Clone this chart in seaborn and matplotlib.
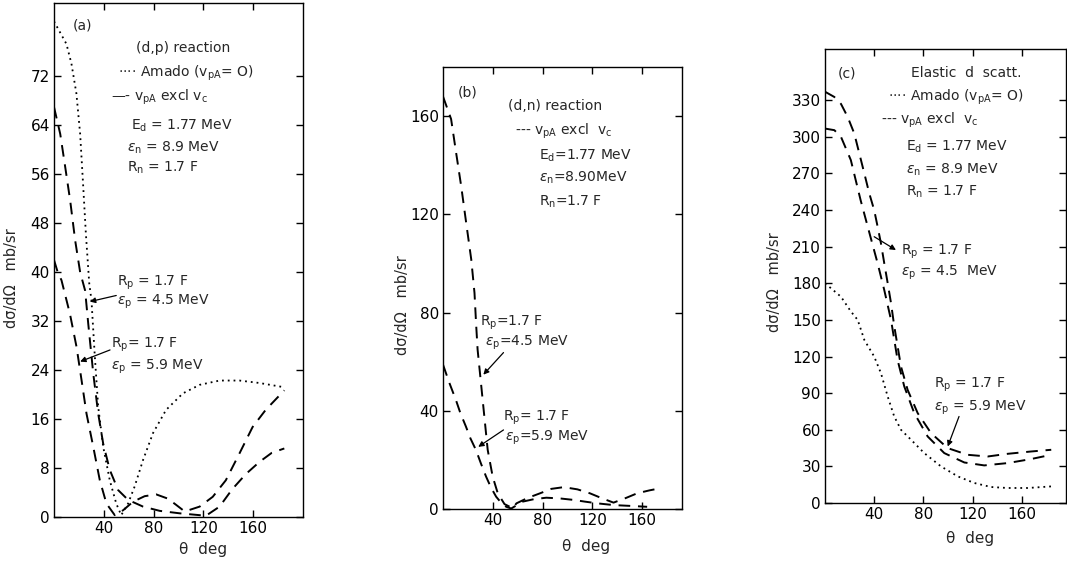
import matplotlib
matplotlib.use("Agg")
import matplotlib.pyplot as plt
import seaborn as sns
import numpy as np

# ---------------- data: panel (a) (d,p) reaction ----------------
a_amado_x = [0, 10, 14, 18, 21, 23.5, 25.6, 28.3, 30.1, 32.8, 35.5, 39.5, 44.8, 50, 54,
             59.5, 64.8, 71.5, 79.5, 90, 103.5, 117, 133, 149, 165, 185]
a_amado_y = [81, 77.3, 74.1, 69.2, 62.6, 53.9, 46.3, 38.2, 35.4, 26.2, 18, 11.5, 6, 2.2, 0.3,
             2.2, 5, 9.3, 13.7, 17.5, 20.2, 21.6, 22.3, 22.3, 21.9, 21.2]

a_45_x = [0, 5, 9, 13, 17, 21, 25, 27.5, 31.5, 35.5, 39.5, 44.8, 51.5, 59.5, 71.5, 85, 101,
          117, 122, 133, 143, 154, 165, 175, 185]
a_45_y = [67, 62.6, 57.2, 51.7, 45.2, 40, 37, 31.6, 23.5, 16.9, 12, 7.7, 4.4, 2.8, 1.7, 1.0, 0.6,
          0.3, 0.2, 1.7, 4.5, 7, 9, 10.5, 11.2]

a_59_x = [0, 3, 6, 12.8, 18.1, 22.1, 26.1, 31.5, 36.8, 42.1, 48.8, 55.5, 63.5, 72.8, 82, 91.5,
          98, 105, 117, 127.5, 138, 149, 159.5, 170, 185]
a_59_y = [42, 40, 38.7, 33.2, 27.8, 22.4, 16.9, 11.5, 6, 2.2, 0.3, 1.1, 2.5, 3.4, 3.7, 3.0,
          2.0, 0.9, 1.7, 3.3, 6.0, 10.4, 14.7, 17.5, 20.7]

# ---------------- data: panel (b) (d,n) reaction ----------------
b_45_x = [0, 6.5, 10.5, 14.6, 18.6, 22.7, 25.3, 26.7, 27.8, 30.5, 33.2, 35.9, 39.9, 44, 49.4,
          56, 59, 68, 78, 87, 97, 108, 118, 128, 137, 147, 156, 166, 175]
b_45_y = [168, 158.8, 145.2, 131.5, 116.6, 101.6, 88, 74.4, 64.9, 51.3, 37.7, 24.1, 13.2, 6.4, 2,
          0.3, 2.3, 4.5, 6.4, 8.2, 8.9, 8.0, 6.4, 4.3, 2.6, 4.5, 6.4, 7.6, 8.5]

b_59_x = [0, 5, 10.3, 14, 18.4, 22, 26.5, 30.5, 34.6, 38.5, 42.7, 46.8, 50.8, 54.8, 64, 73, 83,
          94, 105, 114, 124, 137, 153, 164]
b_59_y = [58.8, 51.5, 44.5, 39, 33.6, 28.8, 24, 18.5, 13.2, 8.8, 5, 2.5, 0.9, 0.2, 3.0, 4.0, 4.6,
          4.3, 3.7, 3.0, 2.3, 1.6, 1.2, 0.9]

# ---------------- data: panel (c) elastic d scattering ----------------
c_amado_x = [0, 6, 13, 21, 26.6, 32, 40, 45.5, 51, 56.3, 61.8, 70, 80.7, 94.3, 108, 121.4, 135,
             148.5, 165, 184]
c_amado_y = [180, 175, 169, 157, 150, 133.6, 120, 106.4, 87.2, 70.9, 60, 51.8, 40.9, 30, 21.8,
             16.4, 13.1, 12.3, 12.3, 13.6]

c_45_x = [0, 7.6, 13, 18.4, 23.8, 27.9, 32, 36, 40, 42.8, 45.5, 48.2, 51, 53.7, 56.3, 61.8,
          67.2, 75.4, 86.2, 99.7, 116, 132.3, 148.5, 167.5, 184]
c_45_y = [337, 332.7, 327, 316.4, 302.8, 286.4, 270, 253.7, 240, 226.4, 212.8, 196.4, 180,
          163.7, 145, 111.8, 92.7, 73.6, 57.3, 45, 39.5, 38.1, 40.3, 42.2, 43.6]

c_59_x = [0, 7.6, 13, 21, 29, 37, 42.8, 48.2, 53.7, 59, 64.5, 72.6, 83.5, 97, 113.3, 129.5,
          148.5, 167.5, 184]
c_59_y = [306.8, 305.5, 300, 281, 248, 218, 196.4, 174.5, 150, 117.3, 95.4, 73.6, 54.5, 40.9,
          33.2, 30.8, 32.7, 36, 39.5]

# ---------------- axis ticks ----------------
a_yticks = [0, 8, 16, 24, 32, 40, 48, 56, 64, 72]
b_yticks = [0, 40, 80, 120, 160]
c_yticks = [0, 30, 60, 90, 120, 150, 180, 210, 240, 270, 300, 330]
xticks = [40, 80, 120, 160]

# ---------------- style ----------------
sns.set_style("ticks")
plt.rcParams['font.family'] = ['DejaVu Sans']
plt.rcParams['mathtext.fontset'] = 'dejavusans'
plt.rcParams['axes.linewidth'] = 1.0

DASH = (0, (6, 4))
DOT = (0, (1, 2.2))
TFS = 10      # annotation text size
TKFS = 11     # tick label size

fig = plt.figure(figsize=(10.67, 5.62), dpi=100)
W, H = 1067.0, 562.0


def mk_axes(left, right, top, bottom):
    return fig.add_axes([left / W, 1 - bottom / H, (right - left) / W, (bottom - top) / H])


axA = mk_axes(54, 303, 3, 517)
axB = mk_axes(443, 682, 67, 509)
axC = mk_axes(825, 1066, 49, 503)


def line(ax, x, y, ls, lw=1.4):
    sns.lineplot(x=x, y=y, ax=ax, color="black", linestyle=ls, linewidth=lw,
                 sort=False, estimator=None)


def style_axes(ax, xlim, ylim, yticks, ylab_xy, xlab_xy):
    ax.set_xlim(*xlim)
    ax.set_ylim(*ylim)
    ax.set_xticks(xticks)
    ax.set_yticks(yticks)
    ax.tick_params(direction="in", length=5, width=1, top=True, right=True,
                   labelsize=TKFS, colors="black", pad=3)
    for s in ax.spines.values():
        s.set_color("black")
        s.set_visible(True)
    ax.set_ylabel("dσ/dΩ   mb/sr", fontsize=10.5)
    ax.yaxis.set_label_coords(*ylab_xy)
    ax.set_xlabel("θ  deg", fontsize=11)
    ax.xaxis.set_label_coords(*xlab_xy)


def arrow(ax, tail, head):
    ax.annotate("", xy=head, xytext=tail,
                arrowprops=dict(arrowstyle="-|>", color="black", lw=0.9,
                                mutation_scale=8, shrinkA=0, shrinkB=0))


# ---------------- panel (a) ----------------
line(axA, a_amado_x, a_amado_y, DOT, 1.3)
line(axA, a_45_x, a_45_y, DASH)
line(axA, a_59_x, a_59_y, DASH)
style_axes(axA, (0, 200), (0, 84), a_yticks, (-0.14, 0.465), (0.60, -0.048))
axA.text(15, 80.3, "(a)", fontsize=TFS, va="center")
axA.text(66, 76.7, "(d,p) reaction", fontsize=TFS, va="center")
axA.text(51.5, 72.5, r"···· Amado ($\mathregular{v_{pA}}$= O)", fontsize=TFS, va="center")
axA.text(46, 68.6, r"—- $\mathregular{v_{pA}}$ excl $\mathregular{v_c}$", fontsize=TFS, va="center")
axA.text(62, 64, r"$\mathregular{E_d}$ = 1.77 MeV", fontsize=TFS, va="center")
axA.text(59, 60.4, r"$\epsilon_\mathregular{n}$ = 8.9 MeV", fontsize=TFS, va="center")
axA.text(59, 57.1, r"$\mathregular{R_n}$ = 1.7 F", fontsize=TFS, va="center")
axA.text(51, 38.2, r"$\mathregular{R_p}$ = 1.7 F", fontsize=TFS, va="center")
axA.text(51, 35.1, r"$\epsilon_\mathregular{p}$ = 4.5 MeV", fontsize=TFS, va="center")
arrow(axA, (50, 36.2), (28.8, 35.2))
axA.text(46, 28.1, r"$\mathregular{R_p}$= 1.7 F", fontsize=TFS, va="center")
axA.text(46, 24.5, r"$\epsilon_\mathregular{p}$ = 5.9 MeV", fontsize=TFS, va="center")
arrow(axA, (45, 27.3), (21, 25.4))

# ---------------- panel (b) ----------------
line(axB, b_45_x, b_45_y, DASH)
line(axB, b_59_x, b_59_y, DASH)
style_axes(axB, (0, 192), (0, 180), b_yticks, (-0.14, 0.462), (0.60, -0.068))
axB.text(12, 169.8, "(b)", fontsize=TFS, va="center")
axB.text(52.6, 164, "(d,n) reaction", fontsize=TFS, va="center")
axB.text(58, 153.9, r"--- $\mathregular{v_{pA}}$ excl  $\mathregular{v_c}$", fontsize=TFS, va="center")
axB.text(77, 143.7, r"$\mathregular{E_d}$=1.77 MeV", fontsize=TFS, va="center")
axB.text(77, 135, r"$\epsilon_\mathregular{n}$=8.90MeV", fontsize=TFS, va="center")
axB.text(77, 125.3, r"$\mathregular{R_n}$=1.7 F", fontsize=TFS, va="center")
axB.text(30, 75.9, r"$\mathregular{R_p}$=1.7 F", fontsize=TFS, va="center")
axB.text(34, 67.8, r"$\epsilon_\mathregular{p}$=4.5 MeV", fontsize=TFS, va="center")
arrow(axB, (48.6, 63.7), (32.4, 54.7))
axB.text(48.6, 37.1, r"$\mathregular{R_p}$= 1.7 F", fontsize=TFS, va="center")
axB.text(50, 29, r"$\epsilon_\mathregular{p}$=5.9 MeV", fontsize=TFS, va="center")
arrow(axB, (48.6, 32.2), (28.3, 25.3))

# ---------------- panel (c) ----------------
line(axC, c_amado_x, c_amado_y, DOT, 1.3)
line(axC, c_45_x, c_45_y, DASH)
line(axC, c_59_x, c_59_y, DASH)
style_axes(axC, (0, 196), (0, 372), c_yticks, (-0.178, 0.487), (0.60, -0.062))
axC.text(10.6, 352, "(c)", fontsize=TFS, va="center")
axC.text(70, 352, "Elastic  d  scatt.", fontsize=TFS, va="center")
axC.text(51, 332.5, r"···· Amado ($\mathregular{v_{pA}}$= O)", fontsize=TFS, va="center")
axC.text(45.5, 313.7, r"--- $\mathregular{v_{pA}}$ excl  $\mathregular{v_c}$", fontsize=TFS, va="center")
axC.text(66, 291.6, r"$\mathregular{E_d}$ = 1.77 MeV", fontsize=TFS, va="center")
axC.text(66, 272.9, r"$\epsilon_\mathregular{n}$ = 8.9 MeV", fontsize=TFS, va="center")
axC.text(66, 254.8, r"$\mathregular{R_n}$ = 1.7 F", fontsize=TFS, va="center")
axC.text(62, 205.6, r"$\mathregular{R_p}$ = 1.7 F", fontsize=TFS, va="center")
axC.text(62, 188.5, r"$\epsilon_\mathregular{p}$ = 4.5  MeV", fontsize=TFS, va="center")
arrow(axC, (40, 218.2), (57.7, 207.3))
axC.text(88.6, 96.8, r"$\mathregular{R_p}$ = 1.7 F", fontsize=TFS, va="center")
axC.text(88.6, 78, r"$\epsilon_\mathregular{p}$ = 5.9 MeV", fontsize=TFS, va="center")
arrow(axC, (109, 70.9), (99.8, 46.3))

fig.savefig("out.png", dpi=100)
